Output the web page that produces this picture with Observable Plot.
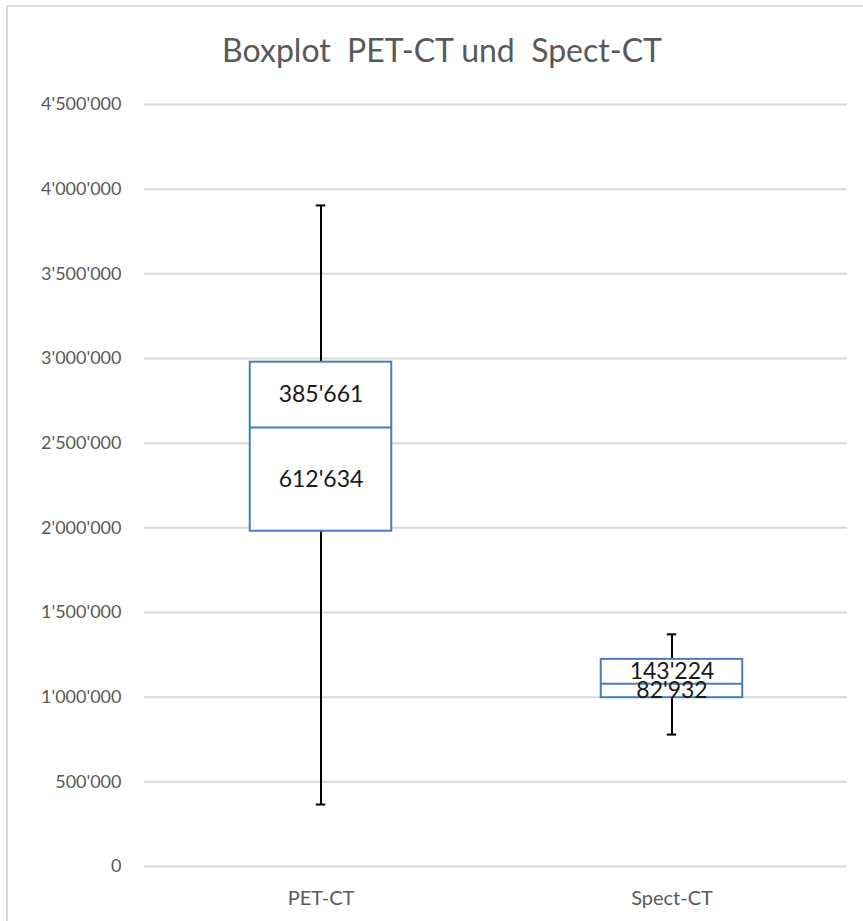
<!DOCTYPE html>
<html>
<head>
<meta charset="utf-8">
<script src="https://cdn.jsdelivr.net/npm/d3@7"></script>
<script src="https://cdn.jsdelivr.net/npm/@observablehq/plot@0.6"></script>
<style>
  html, body { margin: 0; padding: 0; background: #fff; }
  #wrap { position: relative; width: 863px; height: 921px; overflow: hidden; }
  #border { position: absolute; left: 6px; top: 5px; width: 900px; height: 950px;
            border-left: 2px solid #d9d9d9; border-top: 2px solid #d9d9d9; pointer-events: none; }
  svg { display: block; }
</style>
</head>
<body>
<div id="wrap"><div id="chart"></div><div id="border"></div></div>
<script>
const title = "Boxplot\u00a0 PET-CT und\u00a0 Spect-CT";
const categories = ["PET-CT", "Spect-CT"];
const whiskerMin = [366000, 779000];
const q1 = [1980000, 997000];
const median = [2592634, 1079932];
const q3 = [2978295, 1223156];
const whiskerMax = [3904000, 1371000];
const upperLabels = ["385'661", "143'224"];
const lowerLabels = ["612'634", "82'932"];
const yTicks = [0, 500000, 1000000, 1500000, 2000000, 2500000, 3000000, 3500000, 4000000, 4500000];

const rows = categories.map((c, i) => ({
  cat: c, lo: whiskerMin[i], q1: q1[i], med: median[i], q3: q3[i], hi: whiskerMax[i],
  upLab: upperLabels[i], lowLab: lowerLabels[i]
}));

const fmt = d3.formatLocale({decimal: ".", thousands: "'", grouping: [3], currency: ["", ""]}).format(",");
const FONT = "Lato, 'Open Sans', sans-serif";
const gray = "#595959";
const blue = "#4a7ebb";

const W = 863, H = 921;
const ml = 144, mr = 16, mt = 104, mb = 55;
const band = (W - ml - mr) / 2;
const boxInset = (band - 142) / 2;
const capInset = (band - 10) / 2;

const chart = Plot.plot({
  width: W, height: H,
  marginLeft: ml, marginRight: mr, marginTop: mt, marginBottom: mb,
  style: {fontFamily: FONT, background: "#fff", overflow: "visible"},
  x: {domain: categories, padding: 0, label: null},
  y: {domain: [0, 4500000], label: null},
  marks: [
    Plot.gridY(yTicks, {stroke: "#d9d9d9", strokeOpacity: 1, strokeWidth: 2}),
    Plot.axisY(yTicks, {tickSize: 0, tickPadding: 23, tickFormat: fmt, fontSize: 18, fill: gray, label: null}),
    Plot.axisX({tickSize: 0, tickPadding: 24, fontSize: 20, fill: gray, label: null}),
    Plot.ruleX(rows, {x: "cat", y1: "lo", y2: "hi", stroke: "#000", strokeWidth: 2}),
    Plot.tickY(rows, {x: "cat", y: "lo", stroke: "#000", strokeWidth: 2, inset: capInset}),
    Plot.tickY(rows, {x: "cat", y: "hi", stroke: "#000", strokeWidth: 2, inset: capInset}),
    Plot.barY(rows, {x: "cat", y1: "q1", y2: "q3", fill: "#fff", stroke: blue, strokeWidth: 2,
                     insetLeft: boxInset, insetRight: boxInset}),
    Plot.tickY(rows, {x: "cat", y: "med", stroke: blue, strokeWidth: 2, inset: boxInset}),
    Plot.text(rows, {x: "cat", y: d => (d.q3 + d.med) / 2, text: "upLab", fontSize: 23, fill: "#1a1a1a"}),
    Plot.text(rows, {x: "cat", y: d => (d.med + d.q1) / 2, text: "lowLab", fontSize: 23, fill: "#1a1a1a"}),
    Plot.text([title], {frameAnchor: "top", dy: -65, dx: -54, text: d => d, fontSize: 32, fill: gray})
  ]
});
document.getElementById("chart").appendChild(chart);
</script>
</body>
</html>
